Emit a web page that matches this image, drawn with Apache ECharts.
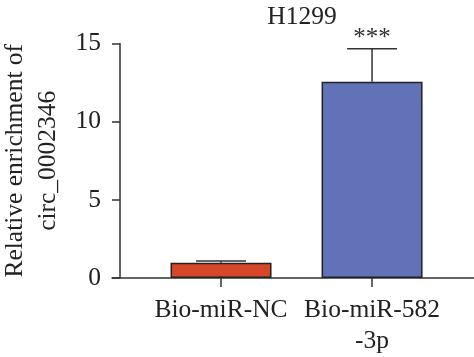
<!DOCTYPE html>
<html>
<head>
<meta charset="utf-8">
<script src="https://cdn.jsdelivr.net/npm/echarts@6/dist/echarts.min.js"></script>
<style>html,body{margin:0;padding:0;background:#fff}#c{width:474px;height:357px}</style>
</head>
<body>
<div id="c"></div>
<script>
var categories = ['Bio-miR-NC', 'Bio-miR-582\n-3p'];
var values = [0.98, 12.55];
var errors = [0.1, 2.12];
var significance = ['', '***'];
var yTicks = [0, 5, 10, 15];
var colors = ['#D6472A', '#6172B8'];

var FONT = 'Liberation Serif';
var FS = 25.5;
var chart = echarts.init(document.getElementById('c'));
var barData = values.map(function (v, i) {
  return { value: [i, v], itemStyle: { color: colors[i] } };
});
var errData = values.map(function (v, i) { return [i, v, v + errors[i], significance[i]]; });

chart.setOption({
  animation: false,
  title: {
    text: 'H1299', left: 297, top: -1, textAlign: 'center',
    textStyle: { fontFamily: FONT, fontSize: FS, fontWeight: 'normal', color: '#222' }
  },
  grid: { left: 112, right: 0, top: 43.5, bottom: 79, containLabel: false, outerBoundsMode: 'none' },
  xAxis: {
    type: 'value', min: -0.722, max: 1.675,
    splitLine: { show: false },
    axisLine: { show: true, onZero: false, lineStyle: { color: '#333', width: 1.5 } },
    axisTick: { show: true, customValues: [0, 1], length: 9, lineStyle: { color: '#333', width: 1.5 } },
    axisLabel: {
      customValues: [0, 1], margin: 17, lineHeight: 31, hideOverlap: false,
      fontFamily: FONT, fontSize: FS, color: '#222',
      formatter: function (v) { return categories[Math.round(v)]; }
    }
  },
  yAxis: {
    type: 'value', min: 0, max: 15, interval: 5, offset: -8,
    name: 'Relative enrichment of\ncirc_0002346',
    nameLocation: 'middle', nameGap: 53, nameRotate: 90,
    nameTextStyle: { fontFamily: FONT, fontSize: FS, color: '#222', lineHeight: 33 },
    splitLine: { show: false },
    axisLine: { show: true, onZero: false, lineStyle: { color: '#333', width: 1.5 } },
    axisTick: { show: true, length: 8, lineStyle: { color: '#333', width: 1.5 } },
    axisLabel: { margin: 19, fontFamily: FONT, fontSize: FS, color: '#222' }
  },
  series: [
    {
      type: 'bar', data: barData, barWidth: 101,
      itemStyle: { borderColor: '#222', borderWidth: 1.5 }
    },
    {
      type: 'custom', z: 3,
      renderItem: function (params, api) {
        var x = api.value(0);
        var top = api.coord([x, api.value(1)]);
        var hi = api.coord([x, api.value(2)]);
        var half = 25;
        var children = [
          { type: 'line', shape: { x1: top[0], y1: top[1], x2: hi[0], y2: hi[1] }, style: { stroke: '#333', lineWidth: 1.5 } },
          { type: 'line', shape: { x1: hi[0] - half, y1: hi[1], x2: hi[0] + half, y2: hi[1] }, style: { stroke: '#333', lineWidth: 1.5 } }
        ];
        var sig = significance[params.dataIndex];
        if (sig) {
          children.push({ type: 'text', style: { text: sig, x: hi[0], y: hi[1] + 2, align: 'center', verticalAlign: 'bottom', fontFamily: FONT, fontSize: 25, fill: '#333' } });
        }
        return { type: 'group', children: children };
      },
      data: errData
    }
  ]
});
</script>
</body>
</html>
